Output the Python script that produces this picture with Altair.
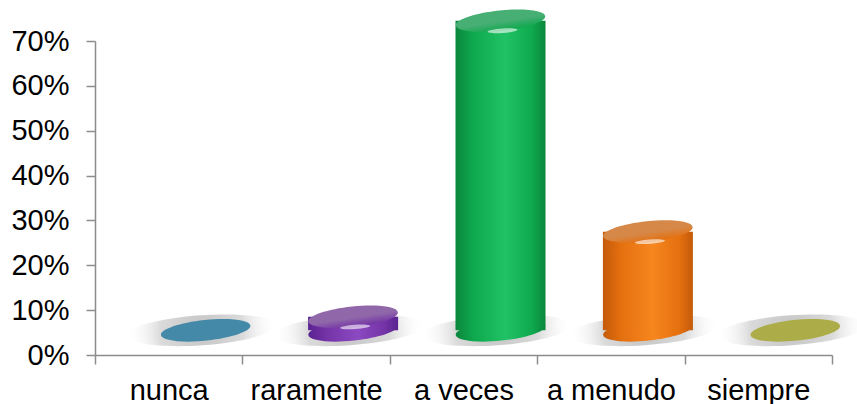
import altair as alt
import pandas as pd

categories = ["nunca", "raramente", "a veces", "a menudo", "siempre"]
values = [0.0, 0.03, 0.69, 0.22, 0.0]
cap_colors = ["#4489a8", "#9068aa", "#47ae74", "#d68848", "#acac48"]
dark_colors = ["#3a7894", "#5a2290", "#0a873c", "#c45a0a", "#97973c"]
mid_colors = ["#4489a8", "#7433a6", "#0fa94e", "#e4700f", "#acac48"]
light_colors = ["#5aa0c0", "#8c4ac2", "#20c265", "#f6861e", "#c0c060"]
y_ticks = [0, 0.1, 0.2, 0.3, 0.4, 0.5, 0.6, 0.7]

FLOOR = 0.055  # 3-D floor level of the cylinders (style)
BAR_W = 90
SHIFT = 37

df = pd.DataFrame({"cat": categories, "value": values})

ELLIPSE = "M-1,0A1,0.23,0,1,0,1,0A1,0.23,0,1,0,-1,0Z"
SHADOW = "M-1,0A1,0.2,0,1,0,1,0A1,0.2,0,1,0,-1,0Z"
HILITE = "M-1,0A1,0.15,0,1,0,1,0A1,0.15,0,1,0,-1,0Z"

x_enc = alt.X(
    "cat:N",
    sort=categories,
    scale=alt.Scale(paddingInner=0, paddingOuter=0),
    axis=alt.Axis(
        title=None, labelAngle=0, tickBand="extent", labelFontSize=29,
        labelFont="Liberation Sans", labelColor="#000000", labelPadding=12,
        tickSize=9, tickColor="#8c8c8c", domainColor="#8c8c8c",
        domainWidth=1.5, tickWidth=1.5, grid=False,
    ),
)
y_scale = alt.Scale(domain=[0, 0.7], nice=False, zero=True)
y_axis = alt.Axis(
    title=None, values=y_ticks, format=".0%", labelFontSize=29,
    labelFont="Liberation Sans", labelColor="#000000", labelPadding=17,
    tickSize=9, tickColor="#8c8c8c", domainColor="#8c8c8c",
    domainWidth=1.5, tickWidth=1.5, grid=False,
)


def side_gradient(i):
    return alt.LinearGradient(
        gradient="linear", x1=0, y1=0, x2=1, y2=0,
        stops=[
            alt.GradientStop(offset=0, color=dark_colors[i]),
            alt.GradientStop(offset=0.2, color=mid_colors[i]),
            alt.GradientStop(offset=0.55, color=light_colors[i]),
            alt.GradientStop(offset=0.85, color=mid_colors[i]),
            alt.GradientStop(offset=1, color=dark_colors[i]),
        ],
    )


base = alt.Chart(df).transform_calculate(top=f"datum.value + {FLOOR}")

shadow = base.mark_point(
    shape=SHADOW, size=150 ** 2, filled=True, strokeWidth=0, opacity=1,
    xOffset=SHIFT - 4, angle=356,
    fill=alt.RadialGradient(
        gradient="radial", x1=0.5, y1=0.5, r1=0, x2=0.5, y2=0.5, r2=0.5,
        stops=[
            alt.GradientStop(offset=0, color="#c4c4c4"),
            alt.GradientStop(offset=0.55, color="#dadada"),
            alt.GradientStop(offset=1, color="rgba(255,255,255,0)"),
        ],
    ),
).encode(x=x_enc, y=alt.datum(FLOOR, scale=y_scale, axis=y_axis))

layers = [shadow]
for i, c in enumerate(categories):
    sub = base.transform_filter(alt.datum.cat == c)
    if values[i] > 0:
        bottom = sub.mark_point(
            shape=ELLIPSE, size=BAR_W ** 2, filled=True, strokeWidth=0,
            opacity=1, xOffset=SHIFT, angle=354, fill=side_gradient(i),
        ).encode(x=x_enc, y=alt.datum(FLOOR, scale=y_scale, axis=y_axis))
        body = sub.mark_bar(
            size=BAR_W, xOffset=SHIFT, fill=side_gradient(i),
        ).encode(
            x=x_enc,
            y=alt.Y("top:Q", scale=y_scale, axis=y_axis),
            y2=alt.datum(FLOOR),
        )
        cap = sub.mark_point(
            shape=ELLIPSE, size=BAR_W ** 2, filled=True, strokeWidth=0,
            opacity=1, xOffset=SHIFT, angle=354,
            fill=alt.LinearGradient(
                gradient="linear", x1=0.3, y1=0, x2=0.5, y2=1,
                stops=[
                    alt.GradientStop(offset=0, color=cap_colors[i]),
                    alt.GradientStop(offset=0.55, color=cap_colors[i]),
                    alt.GradientStop(offset=1, color=mid_colors[i]),
                ],
            ),
        ).encode(x=x_enc, y=alt.Y("top:Q", scale=y_scale, axis=y_axis))
        hi = sub.mark_point(
            shape=HILITE, size=30 ** 2, filled=True, strokeWidth=0,
            opacity=0.6, xOffset=SHIFT + 2, yOffset=10, angle=356,
            fill="#ffffff",
        ).encode(x=x_enc, y=alt.Y("top:Q", scale=y_scale, axis=y_axis))
        layers += [bottom, body, cap, hi]
    else:
        flat = sub.mark_point(
            shape=ELLIPSE, size=BAR_W ** 2, filled=True, strokeWidth=0,
            opacity=1, xOffset=SHIFT, angle=354, fill=cap_colors[i],
        ).encode(x=x_enc, y=alt.datum(FLOOR, scale=y_scale, axis=y_axis))
        layers.append(flat)

chart = alt.layer(*layers).properties(
    width=737, height=314,
    padding={"left": 95, "top": 41, "right": 25, "bottom": 49},
    autosize=alt.AutoSizeParams(type="none"),
    background="#ffffff",
).configure_view(stroke=None).configure_axis(grid=False)

chart.save("out.html", embed_options={"renderer": "svg", "actions": False})
